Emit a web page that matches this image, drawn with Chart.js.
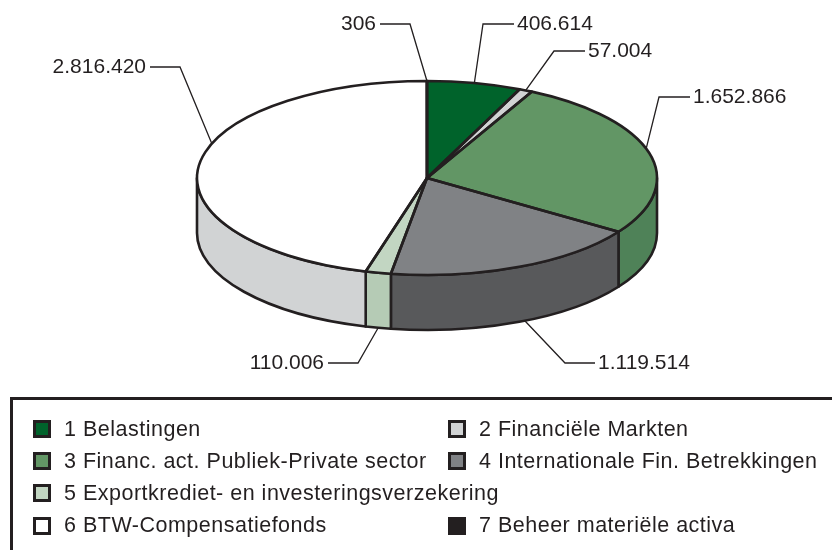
<!DOCTYPE html>
<html>
<head>
<meta charset="utf-8">
<title>Uitgaven per artikel</title>
<script src="https://cdn.jsdelivr.net/npm/chart.js@4"></script>
<style>
  html, body { margin: 0; padding: 0; background: #fff; overflow: hidden; }
  body { width: 832px; height: 550px; position: relative; font-family: "Liberation Sans", Arial, sans-serif; color: #231f20; }
  #pie { position: absolute; left: 0; top: 0; }
  #legend-box { position: absolute; left: 10px; top: 397px; width: 900px; height: 200px; border: 3px solid #231f20; box-sizing: border-box; }
  #legend { position: absolute; left: 20px; top: 13px; display: grid; grid-template-columns: 415px 400px; grid-auto-rows: 32.2px; font-size: 21.5px; letter-spacing: 0.5px; }
  .item { display: flex; align-items: center; white-space: nowrap; }
  .item.wide { grid-column: span 2; }
  .swatch { width: 18px; height: 18px; box-sizing: border-box; border: 3px solid #231f20; margin-right: 13px; flex: none; }
</style>
</head>
<body>
<canvas id="pie" width="832" height="550"></canvas>
<div id="legend-box"><div id="legend"></div></div>
<script>
  const categories = [
    '1 Belastingen',
    '2 Financiële Markten',
    '3 Financ. act. Publiek-Private sector',
    '4 Internationale Fin. Betrekkingen',
    '5 Exportkrediet- en investeringsverzekering',
    '6 BTW-Compensatiefonds',
    '7 Beheer materiële activa'
  ];
  const seriesValues = [406614, 57004, 1652866, 1119514, 110006, 2816420, 306];
  const valueLabels = ['406.614', '57.004', '1.652.866', '1.119.514', '110.006', '2.816.420', '306'];

  const topColors = ['#00632b', '#d1d3d4', '#629665', '#808285', '#c2d6c2', '#ffffff', '#231f20'];
  const sideColors = ['#00632b', '#d1d3d4', '#4f8258', '#58595b', '#b5cbb5', '#d1d3d4', '#231f20'];

  // pie shape on screen
  const INK = '#231f20';
  const screenCy = 178;
  const squash = 97 / 230;
  const depth = 55;

  // leader lines, same order as the values: nudge off the mid angle (deg), elbow, line end
  const leaders = [
    { nudge: 0, elbow: [483, 24], end: [514, 24], align: 'left' },
    { nudge: 0, elbow: [554, 51], end: [585, 51], align: 'left' },
    { nudge: -3, elbow: [659, 97], end: [690, 97], align: 'left' },
    { nudge: -1.5, elbow: [565, 363], end: [595, 363], align: 'left' },
    { nudge: 0, elbow: [358, 363], end: [328, 363], align: 'right' },
    { nudge: 13, elbow: [180, 67], end: [150, 67], align: 'right' },
    { nudge: 0, elbow: [410, 24], end: [380, 24], align: 'right' }
  ];

  function arcsOf(chart) {
    return chart.getDatasetMeta(0).data.map(a => a.getProps(['x', 'y', 'startAngle', 'endAngle', 'outerRadius'], true));
  }

  const pie3d = {
    id: 'pie3d',
    beforeDatasetsDraw(chart) {
      const ctx = chart.ctx;
      const arcs = arcsOf(chart);
      const ry = arcs[0].outerRadius * squash;

      // side walls, only the part facing the viewer
      ctx.save();
      ctx.lineWidth = 2.6;
      ctx.strokeStyle = INK;
      ctx.lineJoin = 'round';
      arcs.forEach((a, i) => {
        const from = Math.max(a.startAngle, 0);
        const to = Math.min(a.endAngle, Math.PI);
        if (to <= from) return;
        ctx.beginPath();
        ctx.ellipse(a.x, screenCy, a.outerRadius, ry, 0, from, to);
        ctx.ellipse(a.x, screenCy + depth, a.outerRadius, ry, 0, to, from, true);
        ctx.closePath();
        ctx.fillStyle = sideColors[i];
        ctx.fill();
        ctx.stroke();
      });
      ctx.restore();

      // the library's slices get flattened onto the top face
      ctx.save();
      ctx.translate(arcs[0].x, screenCy);
      ctx.scale(1, squash);
      ctx.translate(-arcs[0].x, -arcs[0].y);
    },
    afterDatasetsDraw(chart) {
      const ctx = chart.ctx;
      ctx.restore();
      const arcs = arcsOf(chart);
      const ry = arcs[0].outerRadius * squash;

      // outlines here so the flattening does not thin them
      ctx.save();
      ctx.lineWidth = 2.6;
      ctx.strokeStyle = INK;
      ctx.lineJoin = 'round';
      arcs.forEach(a => {
        ctx.beginPath();
        ctx.moveTo(a.x, screenCy);
        ctx.ellipse(a.x, screenCy, a.outerRadius, ry, 0, a.startAngle, a.endAngle);
        ctx.closePath();
        ctx.stroke();
      });
      ctx.restore();

      // leader lines and value labels
      ctx.save();
      ctx.lineWidth = 1.3;
      ctx.strokeStyle = INK;
      ctx.fillStyle = INK;
      ctx.font = '21px "Liberation Sans", Arial, sans-serif';
      ctx.textBaseline = 'middle';
      arcs.forEach((a, i) => {
        const l = leaders[i];
        const mid = (a.startAngle + a.endAngle) / 2 + l.nudge * Math.PI / 180;
        const ax = a.x + a.outerRadius * Math.cos(mid);
        let ay = screenCy + ry * Math.sin(mid);
        if (Math.sin(mid) > 0) ay += depth;
        ctx.beginPath();
        ctx.moveTo(ax, ay);
        ctx.lineTo(l.elbow[0], l.elbow[1]);
        ctx.lineTo(l.end[0], l.end[1]);
        ctx.stroke();
        ctx.textAlign = l.align;
        const gap = l.align === 'left' ? 3 : -4;
        ctx.fillText(valueLabels[i], l.end[0] + gap, l.end[1] + 0.5);
      });
      ctx.restore();
    }
  };

  new Chart(document.getElementById('pie'), {
    type: 'pie',
    data: {
      labels: categories,
      datasets: [{
        data: seriesValues,
        backgroundColor: topColors,
        borderWidth: 0,
        hoverOffset: 0,
        clip: false
      }]
    },
    options: {
      responsive: false,
      animation: false,
      events: [],
      layout: { padding: { left: 197, right: 175, top: 0, bottom: 90 } },
      plugins: { legend: { display: false }, tooltip: { enabled: false } }
    },
    plugins: [pie3d]
  });

  // legend box under the pie
  const legendEl = document.getElementById('legend');
  categories.forEach((name, i) => {
    const item = document.createElement('div');
    item.className = 'item' + (i === 4 ? ' wide' : '');
    const swatch = document.createElement('span');
    swatch.className = 'swatch';
    swatch.style.background = topColors[i];
    const text = document.createElement('span');
    text.textContent = name;
    item.append(swatch, text);
    legendEl.appendChild(item);
  });
</script>
</body>
</html>
